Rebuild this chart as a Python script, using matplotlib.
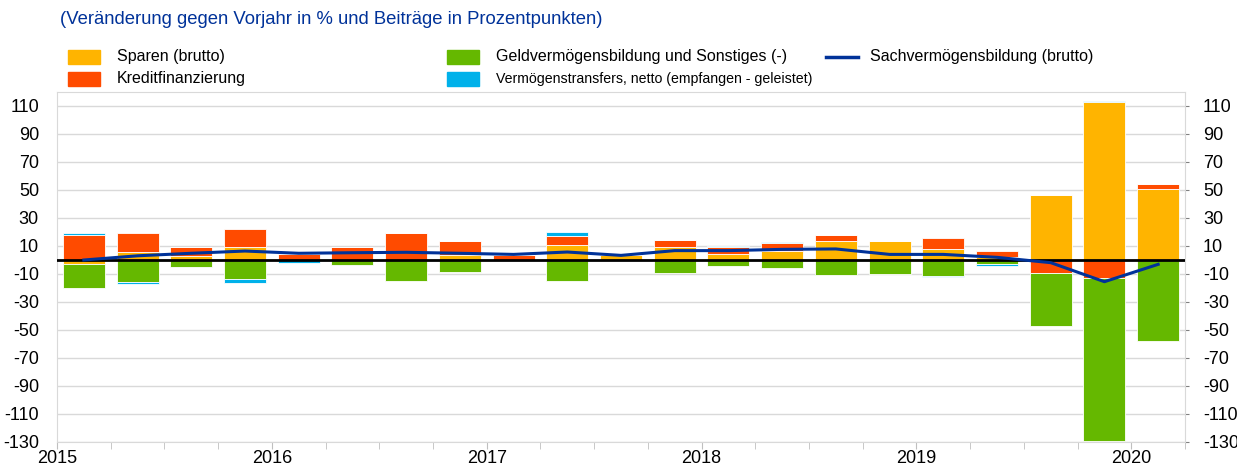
import numpy as np
import matplotlib.pyplot as plt
from matplotlib.patches import Rectangle
from matplotlib.lines import Line2D

plt.rcParams['font.family'] = ['Liberation Sans', 'DejaVu Sans']

# quarterly contributions, 21 quarters starting 2015
sparen = [-3, 6, 3, 9.5, 0, 0, 0, 3.8, 0, 10.5, 3.5, 9.5, 4, 6.5, 13.5, 13.6, 8, 2.5, 46.5, 112.5, 50.5]
kredit = [18, 13.5, 6.5, 12.5, 4.3, 9, 19.5, 9.5, 3.5, 6.5, 0, 5, 5, 5.5, 4.5, 0, 7.5, 4, -9, -13, 3.5]
geld = [-17, -15.7, -5, -13.6, 0, -3.5, -15, -8.8, 0, -15, 0, -9.5, -4.5, -5.7, -10.7, -10.2, -11.4, -2.5, -38, -116.5, -57.5]
transfers = [1.5, -1.2, 0, -2.5, -2, 0, 0, 0, 0, 3, 0, 0, 1.2, 0.8, 0, 0, -1, -1.5, 0, 1, 0]
sach = [0, 3, 4.8, 6.4, 4.8, 5.2, 5.5, 4.8, 4, 5.7, 3.3, 6.7, 6.7, 7.6, 7.9, 4, 4, 1.9, -1.9, -15.5, -3.1]
years = ["2015", "2016", "2017", "2018", "2019", "2020"]

labels = ["Sparen (brutto)", "Kreditfinanzierung",
          "Geldvermögensbildung und Sonstiges (-)",
          "Vermögenstransfers, netto (empfangen - geleistet)",
          "Sachvermögensbildung (brutto)"]
colors = ["#FFB400", "#FF4B00", "#65B800", "#00B1EA"]
blue = "#003299"

fig = plt.figure(figsize=(12.37, 4.66), dpi=100)
ax = fig.add_axes([57/1237, 1 - 442/466, (1185 - 57)/1237, (442 - 92)/466])

x = np.arange(len(sach)) + 0.5
pos = np.zeros(len(x))
neg = np.zeros(len(x))
for series, c in zip([sparen, kredit, geld, transfers], colors):
    v = np.array(series, dtype=float)
    base = np.where(v >= 0, pos, neg)
    ax.bar(x, v, 0.78, bottom=base, color=c, edgecolor="white", linewidth=0.6, zorder=2)
    pos = pos + np.clip(v, 0, None)
    neg = neg + np.clip(v, None, 0)

ax.axhline(0, color="black", lw=2, zorder=3)
ax.plot(x, sach, color=blue, lw=2.2, zorder=4)

ax.set_xlim(0, 21)
ax.set_ylim(-130, 120)
yt = np.arange(-130, 111, 20)
ax.set_yticks(yt)
ax.set_yticklabels([str(t) for t in yt])
ax.yaxis.grid(True, color="#d9d9d9", lw=1, zorder=0)
ax.set_axisbelow(True)

ax.set_xticks(np.arange(0, 21, 4))
ax.set_xticklabels(years)
ax.set_xticks(np.arange(0, 22), minor=True)
ax.tick_params(axis="x", which="both", length=5, color="#bfbfbf", labelsize=13, pad=1)
ax.tick_params(axis="y", labelsize=13, left=False, right=True, labelright=True,
               length=3, color="#808080", pad=10)
for s in ax.spines.values():
    s.set_color("#d9d9d9")

fig.text(60/1237, 1 - 19/466, "(Veränderung gegen Vorjahr in % und Beiträge in Prozentpunkten)",
         color=blue, fontsize=13.3, va="center")

# legend
entries = [(68, 57, 0, 11.5), (68, 79, 1, 11.5), (447, 57, 2, 11.5), (447, 79, 3, 10.2)]
for lx, ly, i, fs in entries:
    fig.patches.append(Rectangle((lx/1237, 1 - (ly + 7)/466), 32/1237, 14/466,
                                 transform=fig.transFigure, color=colors[i]))
    fig.text((lx + 49)/1237, 1 - ly/466, labels[i], fontsize=fs, va="center")
fig.lines.append(Line2D([826/1237, 858/1237], [1 - 57/466, 1 - 57/466],
                        transform=fig.transFigure, color=blue, lw=2.5))
fig.text(870/1237, 1 - 57/466, labels[4], fontsize=11.5, va="center")

fig.savefig("out.png", dpi=100)
